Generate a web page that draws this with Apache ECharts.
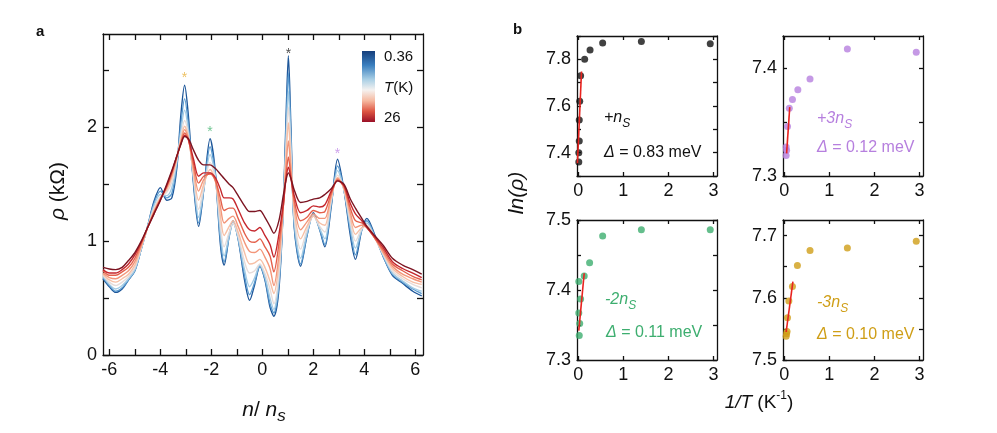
<!DOCTYPE html>
<html>
<head>
<meta charset="utf-8">
<title>rho vs n and Arrhenius fits</title>
<script src="https://cdn.jsdelivr.net/npm/echarts@6/dist/echarts.min.js"></script>
<style>
  html, body { margin: 0; padding: 0; background: #fff; }
  #main { width: 997px; height: 433px; }
</style>
</head>
<body>
<div id="main"></div>
<script>
  // ---------- panel a : rho(n) at several temperatures ----------
  const nGrid = [-6.25,-6,-5.75,-5.5,-5.25,-5,-4.75,-4.5,-4.25,-4,
    -3.75,-3.55,-3.35,-3.2,-3.05,-2.9,-2.7,-2.5,-2.3,-2.05,
    -1.85,-1.65,-1.5,-1.3,-1.15,-0.95,-0.7,-0.5,-0.3,-0.1,
    0.1,0.3,0.45,0.65,0.82,0.93,1.02,1.12,1.25,1.5,
    1.75,2,2.25,2.45,2.7,2.95,3.2,3.45,3.65,3.9,
    4.1,4.4,4.75,5.1,5.5,5.9,6.25];

  const tempsK = [0.36, 1.5, 3, 5, 8, 11, 15, 20, 26];

  const rho_0_36K = [0.67,0.60,0.55,0.58,0.66,0.74,0.93,1.13,1.35,1.47,
    1.36,1.38,1.65,2.10,2.37,2.10,1.50,1.13,1.45,1.90,
    1.62,0.98,0.79,1.05,1.18,1.02,0.66,0.48,0.62,0.78,
    0.66,0.42,0.34,0.58,1.30,2.10,2.63,2.00,1.12,0.78,
    1.05,1.25,1.10,0.95,1.30,1.72,1.45,1.05,0.84,1.10,
    1.20,1.06,0.86,0.70,0.63,0.56,0.52];
  const rho_1_5K = [0.68,0.61,0.56,0.59,0.66,0.74,0.93,1.13,1.33,1.44,
    1.38,1.42,1.68,2.02,2.25,2.02,1.53,1.16,1.45,1.83,
    1.60,1.02,0.82,1.04,1.17,1.02,0.70,0.53,0.64,0.78,
    0.67,0.45,0.37,0.62,1.30,2.00,2.48,1.92,1.14,0.80,
    1.05,1.24,1.10,0.97,1.32,1.66,1.45,1.09,0.88,1.10,
    1.18,1.05,0.86,0.71,0.64,0.58,0.54];
  const rho_3K = [0.69,0.62,0.58,0.61,0.67,0.75,0.93,1.13,1.31,1.41,
    1.40,1.47,1.70,1.96,2.15,1.97,1.55,1.21,1.45,1.76,
    1.58,1.08,0.87,1.05,1.16,1.03,0.75,0.60,0.68,0.79,
    0.69,0.50,0.40,0.66,1.30,1.90,2.32,1.84,1.17,0.85,
    1.07,1.23,1.11,1.02,1.34,1.62,1.45,1.13,0.94,1.10,
    1.16,1.04,0.87,0.72,0.65,0.59,0.56];
  const rho_5K = [0.70,0.64,0.61,0.64,0.69,0.77,0.94,1.12,1.29,1.39,
    1.43,1.52,1.72,1.92,2.06,1.93,1.57,1.28,1.47,1.69,
    1.56,1.15,0.95,1.08,1.16,1.05,0.82,0.72,0.74,0.80,
    0.72,0.58,0.45,0.72,1.30,1.83,2.18,1.76,1.22,0.93,
    1.10,1.22,1.13,1.08,1.36,1.58,1.45,1.17,1.00,1.11,
    1.14,1.03,0.88,0.74,0.67,0.62,0.59];
  const rho_8K = [0.71,0.66,0.64,0.67,0.71,0.79,0.95,1.12,1.27,1.38,
    1.45,1.56,1.73,1.89,2.01,1.91,1.60,1.36,1.50,1.63,
    1.54,1.23,1.05,1.13,1.18,1.08,0.90,0.80,0.81,0.84,
    0.77,0.65,0.54,0.80,1.30,1.75,2.04,1.69,1.27,1.02,
    1.13,1.22,1.16,1.14,1.38,1.56,1.46,1.21,1.06,1.12,
    1.13,1.03,0.89,0.76,0.69,0.64,0.62];
  const rho_11K = [0.72,0.68,0.67,0.70,0.74,0.82,0.96,1.12,1.26,1.37,
    1.47,1.58,1.74,1.87,1.98,1.90,1.64,1.44,1.54,1.60,
    1.53,1.31,1.16,1.20,1.22,1.13,0.99,0.91,0.90,0.93,
    0.86,0.76,0.61,0.88,1.30,1.66,1.88,1.62,1.32,1.10,
    1.17,1.24,1.20,1.20,1.40,1.55,1.47,1.25,1.12,1.14,
    1.12,1.03,0.90,0.78,0.71,0.67,0.64];
  const rho_15K = [0.74,0.70,0.70,0.73,0.77,0.85,0.98,1.12,1.25,1.37,
    1.48,1.60,1.75,1.86,1.95,1.89,1.68,1.51,1.57,1.59,
    1.54,1.38,1.27,1.29,1.29,1.20,1.07,1.00,0.99,1.02,
    0.95,0.87,0.73,0.98,1.30,1.58,1.74,1.57,1.36,1.18,
    1.21,1.27,1.25,1.26,1.42,1.54,1.48,1.29,1.18,1.16,
    1.12,1.03,0.92,0.80,0.74,0.69,0.66];
  const rho_20K = [0.75,0.72,0.72,0.75,0.80,0.88,0.99,1.12,1.24,1.36,
    1.49,1.61,1.75,1.85,1.93,1.89,1.72,1.57,1.60,1.60,
    1.56,1.46,1.38,1.38,1.37,1.28,1.16,1.10,1.09,1.12,
    1.05,0.97,0.86,1.06,1.33,1.55,1.65,1.55,1.40,1.25,
    1.27,1.31,1.30,1.32,1.44,1.53,1.49,1.33,1.24,1.18,
    1.12,1.04,0.94,0.82,0.76,0.72,0.68];
  const rho_26K = [0.77,0.755,0.75,0.77,0.83,0.90,1.00,1.12,1.24,1.36,
    1.50,1.62,1.75,1.85,1.92,1.90,1.80,1.71,1.67,1.67,
    1.64,1.59,1.55,1.50,1.47,1.40,1.31,1.26,1.26,1.27,
    1.21,1.13,1.07,1.18,1.40,1.54,1.60,1.55,1.45,1.34,
    1.35,1.37,1.38,1.41,1.46,1.53,1.50,1.37,1.29,1.20,
    1.13,1.05,0.96,0.85,0.79,0.75,0.71];

  const curves = [rho_0_36K, rho_1_5K, rho_3K, rho_5K, rho_8K, rho_11K, rho_15K, rho_20K, rho_26K];
  const curveColors = ['#1d5699', '#5a9bd0', '#a3cbe4', '#e6dcda', '#f7bfa5',
    '#f3967a', '#e4604b', '#c5262c', '#7c1421'];

  // asterisks above the peaks
  const starN = [-3.05, -2.05, 1.02, 2.95];
  const starRho = [2.47, 1.99, 2.675, 1.80];
  const starColors = ['#e8b13c', '#4cb877', '#222222', '#c08ae6'];

  // ---------- panel b : ln(rho) vs 1/T ----------
  const invT_p1 = [0.01, 0.01, 0.02, 0.02, 0.03, 0.05, 0.14, 0.26, 0.54, 1.40, 2.93];
  const lnRho_p1 = [7.36, 7.40, 7.45, 7.54, 7.62, 7.73, 7.80, 7.84, 7.87, 7.876, 7.867];
  const fitX_p1 = [-0.02, 0.07];
  const fitY_p1 = [7.355, 7.748];

  const invT_p3 = [0.04, 0.05, 0.04, 0.07, 0.11, 0.18, 0.30, 0.57, 1.40, 2.93];
  const lnRho_p3 = [7.319, 7.324, 7.327, 7.346, 7.363, 7.371, 7.380, 7.390, 7.418, 7.415];
  const fitX_p3 = [0.05, 0.12];
  const fitY_p3 = [7.321, 7.364];

  const invT_m2 = [0.01, 0.01, 0.03, 0.02, 0.05, 0.13, 0.25, 0.54, 1.40, 2.93];
  const lnRho_m2 = [7.412, 7.367, 7.352, 7.335, 7.387, 7.420, 7.439, 7.477, 7.486, 7.486];
  const fitX_m2 = [0.01, 0.13];
  const fitY_m2 = [7.342, 7.424];

  const invT_m3 = [0.04, 0.05, 0.06, 0.07, 0.10, 0.18, 0.29, 0.57, 1.40, 2.93];
  const lnRho_m3 = [7.538, 7.542, 7.546, 7.568, 7.595, 7.618, 7.652, 7.676, 7.680, 7.691];
  const fitX_m3 = [0.04, 0.19];
  const fitY_m3 = [7.545, 7.626];

  // tick values
  const nTicks = [-6,-5,-4,-3,-2,-1,0,1,2,3,4,5,6];
  const nLabels = [-6,-4,-2,0,2,4,6];
  const rhoTicks = [0,0.5,1,1.5,2,2.5];
  const rhoLabels = [0,1,2];
  const invTTicks = [0,1,2,3];
  const yTicks_p1 = [7.3,7.4,7.5,7.6,7.7,7.8,7.9];
  const yLabels_p1 = [7.4,7.6,7.8];
  const yTicks_p3 = [7.3,7.35,7.4];
  const yLabels_p3 = [7.3,7.4];
  const yTicks_m2 = [7.3,7.35,7.4,7.45,7.5];
  const yLabels_m2 = [7.3,7.4,7.5];
  const yTicks_m3 = [7.5,7.55,7.6,7.65,7.7];
  const yLabels_m3 = [7.5,7.6,7.7];

  const FONT = '"Liberation Sans", Arial, Helvetica, sans-serif';
  const INK = '#111';
  const FIT_RED = '#e8231f';

  let myChart = echarts.init(document.getElementById('main'));

  // one axis of a boxed frame (ticks pointing in on all four sides)
  function frameAxis(grid, pos, min, max, ticks, labels, tickLen, fmt) {
    return {
      type: 'value', gridIndex: grid, position: pos, min: min, max: max,
      splitLine: { show: false },
      axisLine: { show: true, onZero: false, lineStyle: { color: INK, width: 1.3 } },
      axisTick: { show: true, inside: true, length: tickLen, customValues: ticks,
        lineStyle: { color: INK, width: 1.3 } },
      axisLabel: { show: pos === 'bottom' || pos === 'left', customValues: labels,
        color: INK, fontSize: 18, fontFamily: FONT, margin: 6, formatter: fmt }
    };
  }

  const fmt1 = v => Number(v).toFixed(1);
  const fmt0 = v => String(Math.round(v));

  const xAxes = [], yAxes = [];
  function frame(grid, xr, xt, xl, yr, yt, yl, len, yfmt) {
    xAxes.push(frameAxis(grid, 'bottom', xr[0], xr[1], xt, xl, len, fmt0));
    xAxes.push(frameAxis(grid, 'top', xr[0], xr[1], xt, xl, len, fmt0));
    yAxes.push(frameAxis(grid, 'left', yr[0], yr[1], yt, yl, len, yfmt));
    yAxes.push(frameAxis(grid, 'right', yr[0], yr[1], yt, yl, len, yfmt));
  }
  frame(0, [-6.25, 6.3], nTicks, nLabels, [0, 2.82], rhoTicks, rhoLabels, 6, fmt0);
  frame(1, [-0.03, 3.08], invTTicks, invTTicks, [7.3, 7.9], yTicks_p1, yLabels_p1, 4, fmt1);
  frame(2, [-0.03, 3.08], invTTicks, invTTicks, [7.3, 7.43], yTicks_p3, yLabels_p3, 4, fmt1);
  frame(3, [-0.03, 3.08], invTTicks, invTTicks, [7.3, 7.5], yTicks_m2, yLabels_m2, 4, fmt1);
  frame(4, [-0.03, 3.08], invTTicks, invTTicks, [7.5, 7.725], yTicks_m3, yLabels_m3, 4, fmt1);

  const series = [];
  curves.forEach(function (c, k) {
    series.push({
      type: 'line', name: tempsK[k] + ' K', xAxisIndex: 0, yAxisIndex: 0,
      data: nGrid.map((n, i) => [n, c[i]]),
      showSymbol: false, smooth: 0.3, clip: true,
      lineStyle: { color: curveColors[k], width: 1.4 },
      z: 2 + k / 10
    });
  });
  series.push({
    type: 'scatter', xAxisIndex: 0, yAxisIndex: 0, symbolSize: 1,
    itemStyle: { color: 'rgba(0,0,0,0)' }, z: 5,
    data: starN.map((n, i) => ({
      value: [n, starRho[i]],
      label: { show: true, formatter: '*', position: 'inside', offset: [0, 4],
        fontSize: 14, fontFamily: FONT, color: starColors[i] }
    }))
  });

  function arrhenius(grid, xs, ys, color, fx, fy) {
    series.push({
      type: 'scatter', xAxisIndex: 2 * grid, yAxisIndex: 2 * grid,
      data: xs.map((x, i) => [x, ys[i]]), symbolSize: 7,
      itemStyle: { color: color }, z: 2
    });
    series.push({
      type: 'line', xAxisIndex: 2 * grid, yAxisIndex: 2 * grid,
      data: fx.map((x, i) => [x, fy[i]]), showSymbol: false,
      lineStyle: { color: FIT_RED, width: 1.6 }, z: 3
    });
  }
  arrhenius(1, invT_p1, lnRho_p1, '#111111', fitX_p1, fitY_p1);
  arrhenius(2, invT_p3, lnRho_p3, '#b67fde', fitX_p3, fitY_p3);
  arrhenius(3, invT_m2, lnRho_m2, '#3dae6f', fitX_m2, fitY_m2);
  arrhenius(4, invT_m3, lnRho_m3, '#cf9e16', fitX_m3, fitY_m3);

  // text helpers for the graphic layer
  function label(x, y, text, size, color, opts) {
    opts = opts || {};
    return {
      type: 'text', x: x, y: y, rotation: opts.rotation || 0, z: 100,
      style: {
        text: text, fill: color, fontSize: size, fontFamily: FONT,
        fontWeight: opts.bold ? 'bold' : 'normal',
        fontStyle: opts.italic ? 'italic' : 'normal',
        align: opts.align || 'left', textAlign: opts.align || 'left',
        verticalAlign: 'middle', textVerticalAlign: 'middle',
        lineHeight: opts.lh || size + 6,
        rich: opts.rich || {}
      }
    };
  }
  function annoRich(size, color) {
    return {
      i: { fontStyle: 'italic', fontSize: size, fontFamily: FONT, color: color, lineHeight: size + 8, verticalAlign: 'middle' },
      sub: { fontStyle: 'italic', fontSize: size - 4, fontFamily: FONT, color: color, lineHeight: size - 4, verticalAlign: 'bottom' },
      r: { fontSize: size, fontFamily: FONT, color: color, lineHeight: size + 8, verticalAlign: 'middle' }
    };
  }

  const graphics = [
    label(36, 32, 'a', 15, INK, { bold: true }),
    label(513, 30, 'b', 15, INK, { bold: true }),
    // colour bar
    {
      type: 'rect', z: 100,
      shape: { x: 362, y: 51, width: 13, height: 71 },
      style: {
        fill: new echarts.graphic.LinearGradient(0, 0, 0, 1, [
          { offset: 0, color: '#163f7c' },
          { offset: 0.2, color: '#3a7fbf' },
          { offset: 0.4, color: '#a9cfe5' },
          { offset: 0.55, color: '#f5f2f0' },
          { offset: 0.7, color: '#f6b9a0' },
          { offset: 0.85, color: '#de5643' },
          { offset: 1, color: '#9a1027' }
        ])
      }
    },
    label(384, 57, '0.36', 15, INK),
    label(384, 88, '{i|T}{r|(K)}', 15, INK, { rich: annoRich(15, INK) }),
    label(384, 118, '26', 15, INK),
    // axis titles
    label(58, 191, '{i|ρ}{r| (kΩ)}', 21, INK, { rotation: Math.PI / 2, align: 'center', rich: annoRich(21, INK) }),
    label(264, 410, '{i|n}{r|/ }{i|n}{sub|s}', 21, INK, { align: 'center', rich: annoRich(21, INK) }),
    label(517, 193, '{i|ln(ρ)}', 21, INK, { rotation: Math.PI / 2, align: 'center', rich: annoRich(21, INK) }),
    label(759, 403, '{i|1/T}{r| (K}{sup|-1}{r|)}', 19, INK, { align: 'center',
      rich: Object.assign(annoRich(19, INK), { sup: { fontSize: 12, fontFamily: FONT, color: INK, lineHeight: 12, verticalAlign: 'top' } }) }),
    // panel b annotations
    label(604, 118, '{i|+n}{sub|S}', 16, INK, { rich: annoRich(16, INK) }),
    label(604, 153, '{i|Δ}{r| = 0.83 meV}', 16, INK, { rich: annoRich(16, INK) }),
    label(817, 119, '{i|+3n}{sub|S}', 16, '#b67fde', { rich: annoRich(16, '#b67fde') }),
    label(817, 148, '{i|Δ}{r| = 0.12 meV}', 16, '#b67fde', { rich: annoRich(16, '#b67fde') }),
    label(605, 300, '{i|-2n}{sub|S}', 16, '#3dae6f', { rich: annoRich(16, '#3dae6f') }),
    label(606, 333, '{i|Δ}{r| = 0.11 meV}', 16, '#3dae6f', { rich: annoRich(16, '#3dae6f') }),
    label(817, 303, '{i|-3n}{sub|S}', 16, '#cf9e16', { rich: annoRich(16, '#cf9e16') }),
    label(817, 335, '{i|Δ}{r| = 0.10 meV}', 16, '#cf9e16', { rich: annoRich(16, '#cf9e16') })
  ];

  myChart.setOption({
    backgroundColor: '#ffffff',
    animation: false,
    textStyle: { fontFamily: FONT },
    grid: [
      { left: 103, top: 34, width: 320, height: 321 },
      { left: 577, top: 36, width: 140, height: 140 },
      { left: 783, top: 36, width: 140, height: 140 },
      { left: 577, top: 220, width: 140, height: 140 },
      { left: 783, top: 220, width: 140, height: 140 }
    ],
    xAxis: xAxes,
    yAxis: yAxes,
    series: series,
    graphic: graphics
  });
</script>
</body>
</html>
